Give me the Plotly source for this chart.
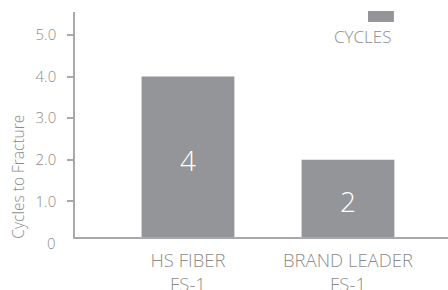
import plotly.graph_objects as go

categories = ["HS FIBER<br>FS-1", "BRAND LEADER<br>FS-1"]
cycles = [4, 2]
series_name = "CYCLES"
y_title = "Cycles to Fracture"
y_tick_vals = [1, 2, 3, 4, 5]
y_tick_text = ["1.0", "2.0", "3.0", "4.0", "5.0"]
zero_label = "0"

BAR = "#939598"
TXT = "#8c8c8c"
AX = "#a7a9ac"
FONT = "Open Sans"

fig = go.Figure()
fig.add_trace(go.Bar(
    x=categories, y=cycles, name=series_name,
    marker=dict(color=BAR, line=dict(width=0)),
    width=0.58,
    text=[str(v) for v in cycles],
    textposition="inside", insidetextanchor="middle", textangle=0,
    insidetextfont=dict(family=FONT, size=28, color="white", weight=300),
    showlegend=False,
))

fig.update_layout(
    width=448, height=290,
    margin=dict(l=75, r=0, t=12, b=52.5),
    paper_bgcolor="white", plot_bgcolor="white",
    font=dict(family=FONT, color=TXT, weight=300),
    xaxis=dict(
        range=[-0.706, 1.625], automargin=False,
        showline=True, linecolor=AX, linewidth=1.5,
        showgrid=False, ticks="",
        ticklabelstandoff=6,
        tickfont=dict(family=FONT, size=18.5, color=TXT, weight=300),
    ),
    yaxis=dict(
        range=[0.144, 5.55], automargin=False,
        showline=True, linecolor=AX, linewidth=1.5,
        showgrid=False, zeroline=False,
        ticks="outside", ticklen=6, tickcolor=AX, tickwidth=1.5,
        tickvals=y_tick_vals, ticktext=y_tick_text,
        ticklabelstandoff=8,
        tickfont=dict(family=FONT, size=15, color=TXT, weight=300),
    ),
    bargap=0.42,
)

# zero label just below the visible range
fig.add_annotation(text=zero_label, xref="paper", yref="paper", x=-0.046, y=-0.0266,
                   xanchor="right", yanchor="middle", showarrow=False,
                   font=dict(family=FONT, size=15, color=TXT, weight=300))
# y title
fig.add_annotation(text=y_title, xref="paper", yref="paper", x=-0.153, y=0.268,
                   xanchor="center", yanchor="middle", textangle=-90, showarrow=False,
                   font=dict(family=FONT, size=15.5, color=TXT, weight=300))
# legend swatch + label
fig.add_shape(type="rect", xref="paper", yref="paper",
              x0=0.7855, x1=0.855, y0=0.9557, y1=1.0044,
              fillcolor=BAR, line=dict(width=0))
fig.add_annotation(text=series_name, xref="paper", yref="paper", x=0.853, y=0.891,
                   xanchor="right", yanchor="middle", showarrow=False,
                   font=dict(family=FONT, size=17, color=TXT, weight=300))

fig.write_html("out.html", config={"displayModeBar": False},
               post_script="document.body.style.margin='0';document.body.style.overflow='hidden';")
